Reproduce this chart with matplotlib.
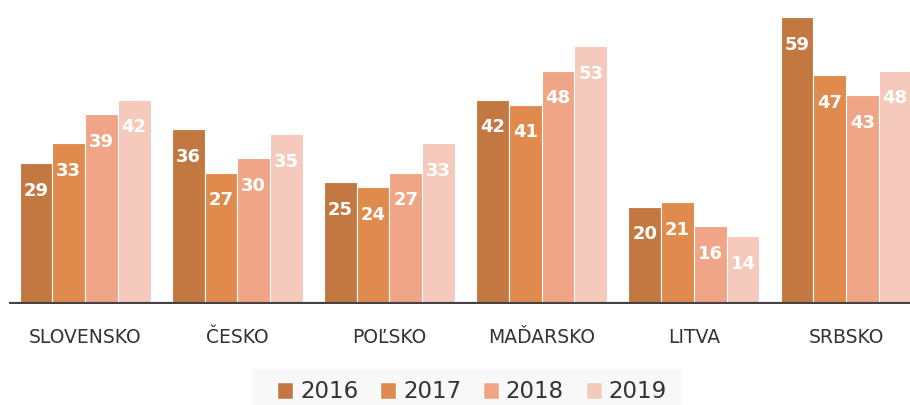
import matplotlib.pyplot as plt
import numpy as np
from matplotlib.patches import Patch, Rectangle

countries = ["SLOVENSKO", "ČESKO", "POĽSKO", "MAĎARSKO", "LITVA", "SRBSKO"]
years = ["2016", "2017", "2018", "2019"]
v2016 = [29, 36, 25, 42, 20, 59]
v2017 = [33, 27, 24, 41, 21, 47]
v2018 = [39, 30, 27, 48, 16, 43]
v2019 = [42, 35, 33, 53, 14, 48]
colors = ["#c47841", "#e08a4e", "#f0a686", "#f5c9bc"]

series = [v2016, v2017, v2018, v2019]
x = np.arange(len(countries))
width = 0.215

fig = plt.figure(figsize=(9.1, 4.05), dpi=100)
ax = fig.add_axes([9 / 910, 101 / 405, 1 - 9 / 910, 304 / 405])

for i, vals in enumerate(series):
    pos = x + (i - 1.5) * width
    ax.bar(pos, vals, width, color=colors[i], edgecolor="white",
           linewidth=0.8, zorder=2)
    for p, v in zip(pos, vals):
        ax.annotate(str(v), (p, v), xytext=(0, -20), textcoords="offset points",
                    ha="center", va="center", color="white",
                    fontsize=13, fontweight="bold")

ax.set_xlim(-0.5, 5.42)
ax.set_ylim(0, 304 / (287 / 59))
ax.axhline(0, color="#444444", linewidth=3, zorder=3)
for s in ax.spines.values():
    s.set_visible(False)
ax.set_yticks([])
ax.set_xticks(x)
ax.set_xticklabels(countries, fontsize=13.5, color="#333333")
ax.tick_params(axis="x", length=0, pad=17)

# legend background
fig.patches.append(Rectangle((252 / 910, 0), 429 / 910, 36 / 405,
                             transform=fig.transFigure, facecolor="#f8f8f8",
                             edgecolor="none", zorder=0))
handles = [Patch(facecolor=c, edgecolor="white") for c in colors]
fig.legend(handles, years, loc="center", bbox_to_anchor=(472 / 910, 13 / 405),
           ncol=4, frameon=False, fontsize=16.5, handlelength=0.7,
           handleheight=0.7, handletextpad=0.3, columnspacing=0.95,
           labelcolor="#333333")

fig.savefig("out.png", dpi=100)
